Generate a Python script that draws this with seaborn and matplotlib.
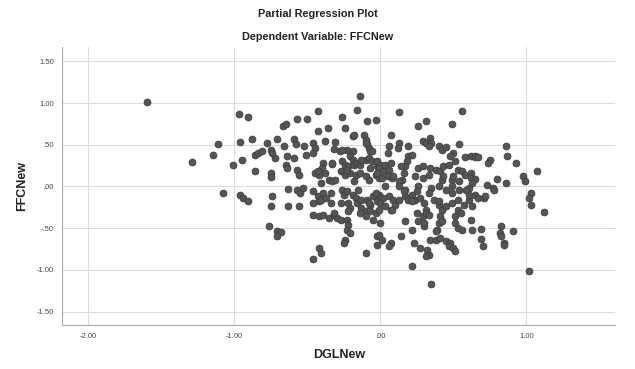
import matplotlib
matplotlib.use("Agg")
import matplotlib.pyplot as plt
import seaborn as sns
import pandas as pd

title = "Partial Regression Plot"
subtitle = "Dependent Variable: FFCNew"
x_label = "DGLNew"
y_label = "FFCNew"
x_ticks = [-2.0, -1.0, 0.0, 1.0]
x_tick_labels = ["-2.00", "-1.00", ".00", "1.00"]
y_ticks = [1.5, 1.0, 0.5, 0.0, -0.5, -1.0, -1.5]
y_tick_labels = ["1.50", "1.00", ".50", ".00", "-.50", "-1.00", "-1.50"]

dgl_new = [
    # left group
    -1.60, -0.97, -0.91, -0.67, -0.65, -0.57, -1.11, -0.96, -0.88, -0.78, -0.71, -0.59,
    -0.58, -0.66, -0.75, -0.74, -0.86, -0.84, -0.81, -0.72, -0.64, -0.59, -1.15, -1.29,
    -1.01, -0.95, -0.86, -0.75, -0.75, -0.65, -0.64, -0.57, -0.56, -1.08, -0.96, -0.94,
    -0.91, -0.74, -0.75, -0.63, -0.63, -0.56, -0.57, -0.76, -0.71, -0.68, -0.71,
    # upper left centre
    -0.14, -0.16, -0.43, -0.50, -0.26, -0.09, -0.03, -0.43, -0.36, -0.24, -0.19, -0.18,
    -0.11, -0.10, -0.09, -0.52, -0.46, -0.45, -0.38, -0.32, -0.28, -0.23, -0.19, -0.21,
    -0.19, -0.08, -0.07, -0.51, -0.46, -0.39, -0.40, -0.33, -0.26, -0.24, -0.22, -0.18,
    -0.16, -0.14, -0.10, -0.08, -0.06, -0.02, -0.45, -0.42, -0.38, -0.35, -0.33, -0.27,
    -0.24, -0.21, -0.17, -0.14, -0.10, -0.08, -0.03, -0.01,
    # upper right centre
    0.13, 0.56, 0.26, 0.31, 0.49, 0.07, 0.06, 0.05, 0.13, 0.12, 0.19, 0.29,
    0.31, 0.34, 0.35, 0.33, 0.40, 0.42, 0.45, 0.54, 0.50, 0.48, 0.58, 0.62,
    0.65, -0.02, 0.00, 0.03, 0.07, -0.01, 0.02, 0.06, -0.02, 0.01, 0.05, 0.19,
    0.22, 0.18, 0.17, 0.16, 0.15, 0.26, 0.29, 0.34, 0.38, 0.41, 0.43, 0.47,
    0.51, 0.53, 0.56, 0.58, 0.62, 0.24, 0.29, 0.33, 0.42, 0.49, 0.54, 0.13, 0.08,
    # lower left centre
    -0.55, -0.53, -0.46, -0.43, -0.42, -0.46, -0.39, -0.41, -0.37, -0.34, -0.26, -0.25,
    -0.23, -0.19, -0.17, -0.22, -0.21, -0.16, -0.13, -0.10, -0.13, -0.09, -0.07, -0.05,
    -0.02, -0.03, -0.01, -0.46, -0.42, -0.39, -0.35, -0.32, -0.30, -0.27, -0.23, -0.22,
    -0.23, -0.21, -0.24, -0.25, -0.14, -0.10, -0.07, -0.05, -0.42, -0.41, -0.46, -0.10,
    -0.02, -0.02,
    # lower right centre
    0.03, 0.13, 0.17, 0.26, 0.35, 0.40, 0.45, 0.49, 0.54, 0.61,
    -0.01, 0.02, 0.06, 0.09, 0.00, 0.03, 0.07, 0.10,
    0.17, 0.19, 0.22, 0.24, 0.27, 0.30, 0.31, 0.29, 0.25, 0.26, 0.30, 0.31,
    0.37, 0.40, 0.42, 0.45, 0.41, 0.40, 0.39, 0.42,
    0.49, 0.53, 0.55, 0.51, 0.57, 0.61, 0.63,
    0.53, 0.56, 0.62, 0.63, 0.00, -0.01, 0.01, 0.07, 0.06, 0.14, 0.22,
    0.23, 0.27, 0.32, 0.33, 0.31,
    0.34, 0.38, 0.41, 0.45, 0.48, 0.47, 0.50, 0.51, 0.22, 0.35,
    # dense core, left
    -0.31, -0.10, -0.26, -0.06, -0.33, -0.13, -0.43, -0.23, -0.07, -0.41,
    -0.31, -0.18, -0.34, -0.15, -0.03, -0.27, -0.08, -0.32, -0.22,
    # dense core, right
    0.14, 0.09, 0.43, 0.16, 0.25, 0.33, 0.13, 0.22, 0.40, 0.08,
    0.33, 0.17, 0.30, 0.51, 0.38,
    # right group
    0.86, 0.87, 0.93, 0.65, 0.67, 0.75, 0.74, 0.50, 1.07, 0.98, 0.99, 0.62,
    0.65, 0.63, 0.73, 0.77, 0.78, 0.80, 0.86, 0.49, 0.53, 0.59, 0.61, 0.65,
    0.67, 0.71, 0.72, 1.03, 1.02, 1.03, 1.12, 0.69, 0.69, 0.70, 0.83, 0.82,
    0.83, 0.85, 0.85, 0.91, 1.02,
]

ffc_new = [
    # left group
    1.01, 0.87, 0.83, 0.72, 0.75, 0.81, 0.51, 0.53, 0.57, 0.52, 0.57, 0.57,
    0.51, 0.48, 0.44, 0.40, 0.38, 0.40, 0.42, 0.34, 0.36, 0.34, 0.38, 0.29,
    0.26, 0.32, 0.19, 0.16, 0.11, 0.26, 0.22, 0.20, 0.14, -0.08, -0.10, -0.14,
    -0.17, -0.11, -0.23, -0.03, -0.24, -0.24, -0.04, -0.48, -0.54, -0.55, -0.60,
    # upper left centre
    1.09, 0.92, 0.90, 0.81, 0.83, 0.78, 0.80, 0.67, 0.70, 0.70, 0.60, 0.62,
    0.62, 0.56, 0.51, 0.48, 0.52, 0.46, 0.54, 0.45, 0.42, 0.44, 0.42, 0.36,
    0.32, 0.46, 0.42, 0.38, 0.40, 0.28, 0.22, 0.27, 0.30, 0.26, 0.24, 0.26,
    0.28, 0.26, 0.32, 0.34, 0.30, 0.24, 0.16, 0.14, 0.16, 0.08, 0.06, 0.18,
    0.14, 0.16, 0.14, 0.16, 0.12, 0.08, 0.14, 0.10,
    # upper right centre
    0.89, 0.91, 0.73, 0.79, 0.75, 0.62, 0.48, 0.40, 0.52, 0.46, 0.48, 0.54,
    0.52, 0.58, 0.52, 0.49, 0.48, 0.44, 0.47, 0.51, 0.40, 0.36, 0.35, 0.36,
    0.37, 0.30, 0.26, 0.26, 0.28, 0.22, 0.18, 0.20, 0.16, 0.10, 0.12, 0.36,
    0.38, 0.30, 0.24, 0.16, 0.08, 0.22, 0.24, 0.22, 0.20, 0.18, 0.24, 0.26,
    0.30, 0.20, 0.18, 0.14, 0.16, 0.12, 0.10, 0.14, 0.08, 0.08, 0.06, 0.06, 0.10,
    # lower left centre
    -0.08, -0.02, -0.06, -0.12, -0.18, -0.20, -0.08, -0.16, -0.14, -0.20, -0.04, -0.10,
    -0.06, -0.10, -0.14, -0.20, -0.26, -0.20, -0.26, -0.30, -0.16, -0.16, -0.22, -0.12,
    -0.18, -0.32, -0.28, -0.34, -0.36, -0.34, -0.38, -0.34, -0.38, -0.40, -0.40, -0.46,
    -0.52, -0.56, -0.64, -0.68, -0.32, -0.36, -0.30, -0.40, -0.74, -0.80, -0.87, -0.80,
    -0.70, -0.60,
    # lower right centre
    0.00, 0.00, -0.04, 0.00, -0.02, 0.00, -0.04, 0.00, -0.04, -0.02,
    -0.10, -0.14, -0.12, -0.16, -0.20, -0.24, -0.28, -0.22,
    -0.12, -0.16, -0.10, -0.16, -0.14, -0.20, -0.28, -0.36, -0.32, -0.42, -0.48, -0.32,
    -0.16, -0.22, -0.28, -0.24, -0.36, -0.44, -0.52, -0.42,
    -0.20, -0.28, -0.32, -0.36, -0.22, -0.16, -0.24,
    -0.50, -0.52, -0.40, -0.52, -0.44, -0.58, -0.64, -0.68, -0.72, -0.60, -0.52,
    -0.68, -0.74, -0.76, -0.82, -0.84,
    -0.64, -0.64, -0.62, -0.66, -0.68, -0.72, -0.74, -0.78, -0.95, -1.17,
    # dense core, left
    0.53, 0.52, 0.44, 0.42, 0.28, 0.32, 0.18, 0.20, 0.22, 0.04,
    0.08, 0.06, -0.08, -0.04, -0.08, -0.20, -0.20, -0.32, -0.30,
    # dense core, right
    0.24, 0.12, 0.12, -0.06, -0.06, -0.08, -0.16, -0.18, -0.18, -0.28,
    -0.34, -0.42, -0.44, -0.44, -0.54,
    # right group
    0.49, 0.37, 0.28, 0.35, 0.35, 0.32, 0.28, 0.12, 0.19, 0.12, 0.06, 0.10,
    0.09, 0.04, 0.02, -0.02, -0.04, 0.09, 0.04, -0.08, -0.16, -0.04, -0.10, -0.10,
    -0.14, -0.14, -0.12, -0.08, -0.14, -0.22, -0.31, -0.51, -0.63, -0.71, -0.47, -0.56,
    -0.60, -0.68, -0.70, -0.54, -1.02,
]

df = pd.DataFrame({x_label: dgl_new, y_label: ffc_new})

sns.set_theme(style="white")
plt.rcParams["font.family"] = ["Liberation Sans", "DejaVu Sans"]

fig = plt.figure(figsize=(6.35, 3.69), dpi=100)
ax = fig.add_axes([0.098, 0.119, 0.871, 0.754])

sns.scatterplot(data=df, x=x_label, y=y_label, ax=ax, s=25,
                color="#555555", edgecolor="#3a3a3a", linewidth=0.5, zorder=3)

ax.set_xlim(-2.18, 1.61)
ax.set_ylim(-1.663, 1.675)
ax.set_xticks(x_ticks)
ax.set_xticklabels(x_tick_labels)
ax.set_yticks(y_ticks)
ax.set_yticklabels(y_tick_labels)
ax.tick_params(axis="both", labelsize=5.5, colors="#444444", length=3, width=0.6,
               color="#aaaaaa", pad=3)
ax.grid(True, color="#dcdcdc", linewidth=0.8, zorder=0)
ax.set_axisbelow(True)
for side in ["top", "right"]:
    ax.spines[side].set_visible(False)
for side in ["left", "bottom"]:
    ax.spines[side].set_color("#aaaaaa")
    ax.spines[side].set_linewidth(0.8)

ax.set_xlabel(x_label, fontsize=9, fontweight="bold", color="#222222", labelpad=6)
ax.set_ylabel(y_label, fontsize=9, fontweight="bold", color="#222222", labelpad=6)

fig.text(0.5, 0.962, title, ha="center", va="center", fontsize=7.8, fontweight="bold", color="#222222")
fig.text(0.5, 0.9, subtitle, ha="center", va="center", fontsize=7.8, fontweight="bold", color="#222222")

fig.savefig("out.png", dpi=100, facecolor="white")
